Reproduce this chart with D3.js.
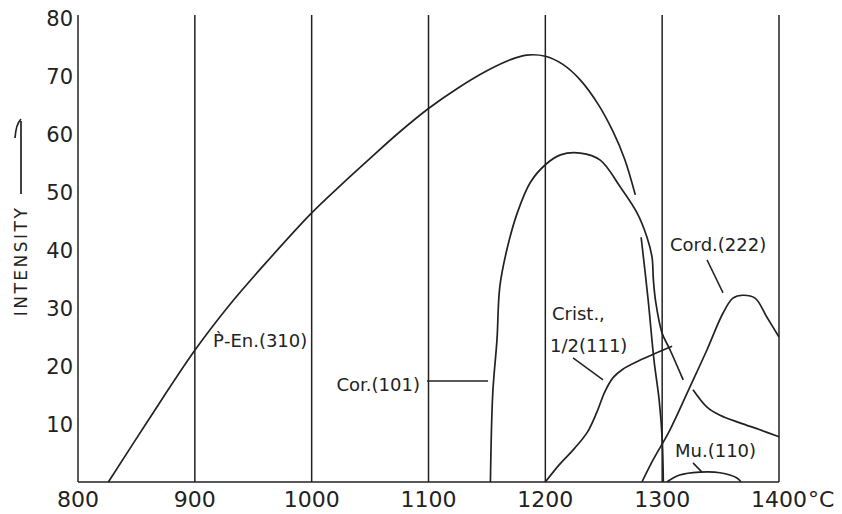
<!DOCTYPE html>
<html>
<head>
<meta charset="utf-8">
<script src="https://cdn.jsdelivr.net/npm/d3@7"></script>
<style>
  body { margin: 0; background: #fff; }
  text { font-family: "DejaVu Sans", sans-serif; fill: #222; }
</style>
</head>
<body>
<script>
// tick values
const xTicks = [800, 900, 1000, 1100, 1200, 1300, 1400];
const yTicks = [10, 20, 30, 40, 50, 60, 70, 80];
const gridTemps = [900, 1000, 1100, 1200, 1300, 1400];

// curves: [temperature °C, intensity]
const pEn = [[826, 0], [860, 10.6], [900, 22.7], [930, 30.6], [960, 37.6], [1000, 46.4], [1025, 51.2],
  [1050, 55.8], [1075, 60.3], [1100, 64.4], [1125, 67.9], [1150, 70.9], [1170, 72.8], [1184, 73.6],
  [1200, 73.4], [1215, 72], [1230, 69.3], [1245, 65.2], [1258, 60.4], [1268, 55.6], [1277, 49.5]];

const corOuter = [[1153, 0], [1155, 15.3], [1158.6, 24.5], [1161, 33.6], [1167, 40], [1176, 46.4],
  [1187, 51.6], [1200, 54.7], [1213, 56.4], [1230, 56.7], [1247, 55.5], [1264, 50.9], [1278.5, 46.4],
  [1287, 42.2], [1291.3, 38.8], [1292.5, 34.8], [1294.5, 31], [1299.9, 25.7], [1306.7, 22.8], [1318, 17.6]];
const corTail = [[1326.4, 15.9], [1338.4, 12.9], [1349.5, 11.5], [1366.6, 10.2], [1383.7, 9], [1400, 7.8]];
const corInner = [[1282, 42.2], [1288, 31.4], [1293, 21], [1297.5, 14], [1300, 7.5], [1301, 0]];

const crist = [[1200, 0], [1212, 3], [1225, 5.8], [1236, 8.6], [1244, 12], [1251, 15.6],
  [1258, 18], [1266, 19.4], [1280, 20.9], [1308.5, 23.4]];

const cord = [[1282.7, 0], [1292.2, 3.8], [1306.7, 9], [1323.8, 16.4], [1338.4, 22.8], [1352, 29.1],
  [1360.6, 31.7], [1369, 32.2], [1379.5, 31.7], [1389.7, 28.4], [1400, 25]];

const mu = [[1304, 0], [1315, 1.2], [1332, 1.7], [1349.5, 1.6], [1364, 0.7], [1367.5, 0]];

const series = [pEn, corOuter, corTail, corInner, crist, cord, mu];

const width = 842, height = 514;
const ink = "#222";

const svg = d3.select("body").append("svg")
  .attr("width", width)
  .attr("height", height);

const x = d3.scaleLinear().domain([800, 1400]).range([78, 779]);
const y = d3.scaleLinear().domain([0, 80]).range([482, 18]);

// vertical grid lines + left axis
svg.selectAll(".grid")
  .data([800].concat(gridTemps))
  .enter().append("line")
  .attr("x1", d => x(d)).attr("x2", d => x(d))
  .attr("y1", y(80.5)).attr("y2", y(0))
  .attr("stroke", ink).attr("stroke-width", 1.5);

// bottom axis line
svg.append("line")
  .attr("x1", x(800)).attr("x2", x(1400))
  .attr("y1", y(0)).attr("y2", y(0))
  .attr("stroke", ink).attr("stroke-width", 1.5);

// x tick labels
const xl = svg.selectAll(".xl")
  .data(xTicks)
  .enter().append("text")
  .attr("x", d => x(d))
  .attr("y", 507)
  .attr("text-anchor", "middle")
  .attr("font-size", 22)
  .text(d => d);

// degree sign after the last label
const last = xl.filter(d => d === 1400).node();
svg.append("text")
  .attr("x", x(1400) + last.getComputedTextLength() / 2 + 1)
  .attr("y", 507)
  .attr("font-size", 22)
  .text("°C");

// y tick labels
svg.selectAll(".yl")
  .data(yTicks)
  .enter().append("text")
  .attr("x", 73)
  .attr("y", d => y(d))
  .attr("dy", "0.36em")
  .attr("text-anchor", "end")
  .attr("font-size", 21)
  .text(d => d);

// y axis title with arrow
svg.append("text")
  .attr("transform", "translate(27,261) rotate(-90)")
  .attr("text-anchor", "middle")
  .attr("font-size", 17)
  .attr("letter-spacing", 2.5)
  .text("INTENSITY");
svg.append("path")
  .attr("d", "M21,194 L21,121 M21,119 Q16,124 15,138")
  .attr("fill", "none").attr("stroke", ink).attr("stroke-width", 1.7);

// curves
const line = d3.line()
  .x(d => x(d[0]))
  .y(d => y(d[1]))
  .curve(d3.curveCatmullRom.alpha(0.5));

svg.selectAll(".curve")
  .data(series)
  .enter().append("path")
  .attr("d", line)
  .attr("fill", "none")
  .attr("stroke", ink)
  .attr("stroke-width", 1.7);

// curve labels
function label(t, v, txt, anchor) {
  svg.append("text")
    .attr("x", x(t)).attr("y", y(v))
    .attr("text-anchor", anchor || "start")
    .attr("font-size", 18)
    .text(txt);
}
function leader(t1, v1, t2, v2) {
  svg.append("line")
    .attr("x1", x(t1)).attr("y1", y(v1))
    .attr("x2", x(t2)).attr("y2", y(v2))
    .attr("stroke", ink).attr("stroke-width", 1.5);
}

label(915.6, 23.3, "P\u0300-En.(310)");
label(1092.7, 15.7, "Cor.(101)", "end");
leader(1098.7, 17.4, 1151, 17.4);
label(1205.7, 27.9, "Crist.,");
label(1204, 22.4, "1/2(111)");
leader(1223.7, 21.4, 1249.4, 17.6);
label(1306.7, 39.8, "Cord.(222)");
leader(1338.4, 38.3, 1352.1, 32.6);
label(1311, 4.3, "Mu.(110)");
leader(1326.4, 3.3, 1334.1, 1.7);
</script>
</body>
</html>
